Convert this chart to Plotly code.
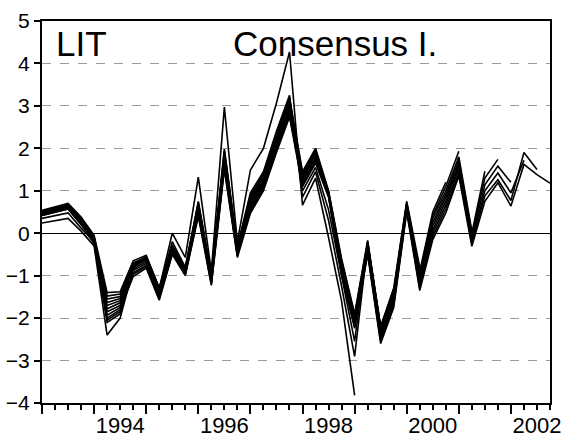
import pandas as pd
import plotly.graph_objects as go

# Quarterly sample 1993Q1-2002Q4
periods = pd.period_range("1993Q1", "2002Q4", freq="Q")
x = [p.year + (p.quarter - 1) / 4 for p in periods]

# Recursive estimates of the consensus indicator, one list per vintage
# (each vintage ends at a later quarter)
vintage_1999q1 = [0.24, 0.30, 0.35, 0.05, -0.30, -2.40, -2.00, -0.85, -0.55, -1.30,
                  0.00, -0.57, 1.32, -0.90, 2.97, -0.20, 1.49, 2.00, 3.07, 4.27,
                  0.66, 1.30, -0.10, -1.60, -3.82]
vintage_1999q4 = [0.35, 0.42, 0.48, 0.12, -0.20, -2.10, -1.90, -0.80, -0.55, -1.30,
                  -0.20, -0.80, 0.75, -0.95, 1.98, -0.30, 0.95, 1.45, 2.40, 3.25,
                  0.85, 1.45, 0.30, -1.25, -2.90, -0.25, -2.20, -1.30]
vintage_2000q2 = [0.42, 0.50, 0.57, 0.20, -0.15, -2.05, -1.85, -0.75, -0.55, -1.30,
                  -0.28, -0.85, 0.72, -1.00, 1.95, -0.35, 0.90, 1.40, 2.36, 3.20,
                  1.00, 1.55, 0.55, -1.00, -2.55, -0.20, -2.25, -1.30, 0.75, -0.80]
vintage_2000q4 = [0.54, 0.62, 0.70, 0.38, -0.05, -1.40, -1.38, -0.65, -0.52, -1.30,
                  -0.30, -0.82, 0.70, -1.00, 1.90, -0.35, 0.85, 1.35, 2.30, 3.20,
                  1.45, 2.00, 1.00, -0.60, -1.90, -0.17, -2.20, -1.35, 0.72, -0.90,
                  0.50, 1.20]
vintage_2001q1 = [0.53, 0.61, 0.68, 0.36, -0.08, -1.48, -1.43, -0.70, -0.56, -1.34,
                  -0.33, -0.84, 0.66, -1.03, 1.85, -0.38, 0.80, 1.31, 2.25, 3.14,
                  1.41, 1.96, 0.98, -0.65, -1.94, -0.21, -2.25, -1.40, 0.70, -0.95,
                  0.42, 1.10, 1.93]
vintage_2001q2 = [0.51, 0.59, 0.67, 0.34, -0.10, -1.55, -1.49, -0.74, -0.60, -1.37,
                  -0.35, -0.87, 0.63, -1.06, 1.80, -0.41, 0.76, 1.26, 2.20, 3.09,
                  1.36, 1.92, 0.96, -0.70, -1.99, -0.25, -2.30, -1.45, 0.68, -1.00,
                  0.35, 1.00, 1.80, 0.05]
vintage_2001q3 = [0.50, 0.58, 0.65, 0.32, -0.13, -1.63, -1.54, -0.79, -0.63, -1.41,
                  -0.38, -0.89, 0.59, -1.09, 1.75, -0.43, 0.71, 1.22, 2.15, 3.03,
                  1.32, 1.87, 0.94, -0.75, -2.03, -0.29, -2.35, -1.50, 0.65, -1.06,
                  0.25, 0.92, 1.72, 0.00, 1.46]
vintage_2001q4 = [0.48, 0.56, 0.64, 0.30, -0.15, -1.70, -1.59, -0.84, -0.67, -1.44,
                  -0.40, -0.91, 0.55, -1.12, 1.70, -0.46, 0.66, 1.18, 2.10, 2.97,
                  1.28, 1.83, 0.93, -0.80, -2.07, -0.34, -2.40, -1.55, 0.62, -1.12,
                  0.17, 0.84, 1.65, -0.05, 1.30, 1.74]
vintage_2002q1 = [0.47, 0.55, 0.62, 0.28, -0.18, -1.78, -1.64, -0.88, -0.71, -1.48,
                  -0.43, -0.93, 0.51, -1.14, 1.65, -0.49, 0.61, 1.13, 2.05, 2.91,
                  1.23, 1.78, 0.91, -0.85, -2.11, -0.38, -2.45, -1.60, 0.60, -1.18,
                  0.08, 0.75, 1.58, -0.12, 1.14, 1.58, 1.20]
vintage_2002q2 = [0.45, 0.53, 0.60, 0.26, -0.20, -1.85, -1.70, -0.93, -0.75, -1.51,
                  -0.45, -0.96, 0.48, -1.17, 1.60, -0.52, 0.57, 1.09, 2.00, 2.86,
                  1.19, 1.74, 0.89, -0.90, -2.16, -0.42, -2.50, -1.65, 0.57, -1.24,
                  0.00, 0.66, 1.50, -0.18, 1.00, 1.42, 0.95, 1.72]
vintage_2002q3 = [0.44, 0.52, 0.59, 0.24, -0.23, -1.93, -1.75, -0.97, -0.78, -1.55,
                  -0.48, -0.98, 0.44, -1.20, 1.55, -0.54, 0.52, 1.04, 1.95, 2.80,
                  1.14, 1.69, 0.87, -0.95, -2.20, -0.46, -2.55, -1.70, 0.54, -1.30,
                  -0.08, 0.57, 1.42, -0.25, 0.88, 1.26, 0.77, 1.90, 1.50]
vintage_2002q4 = [0.42, 0.50, 0.57, 0.22, -0.25, -2.00, -1.80, -1.02, -0.82, -1.58,
                  -0.50, -1.00, 0.40, -1.23, 1.50, -0.57, 0.47, 1.00, 1.90, 2.74,
                  1.10, 1.65, 0.85, -1.00, -2.24, -0.50, -2.60, -1.75, 0.50, -1.35,
                  -0.15, 0.48, 1.35, -0.31, 0.75, 1.19, 0.64, 1.62, 1.38, 1.18]

vintages = [vintage_1999q1, vintage_1999q4, vintage_2000q2, vintage_2000q4,
            vintage_2001q1, vintage_2001q2, vintage_2001q3, vintage_2001q4,
            vintage_2002q1, vintage_2002q2, vintage_2002q3, vintage_2002q4]

label_years = [1994, 1996, 1998, 2000, 2002]
y_ticks = list(range(-4, 6))

FONT = "Liberation Sans, Arial, sans-serif"

fig = go.Figure()
for values in vintages:
    fig.add_trace(go.Scatter(
        x=x[:len(values)], y=values, mode="lines",
        line=dict(color="black", width=1.6),
        showlegend=False, hoverinfo="skip", xaxis="x", yaxis="y",
    ))

# invisible trace so the year-label axis is drawn
fig.add_trace(go.Scatter(x=[x[0]], y=[0], mode="markers", marker=dict(opacity=0),
                         showlegend=False, hoverinfo="skip", xaxis="x2", yaxis="y"))

fig.update_layout(
    width=568, height=439,
    margin=dict(l=42, r=18, t=21, b=36),
    paper_bgcolor="white", plot_bgcolor="white",
    font=dict(family=FONT, color="black"),
    xaxis=dict(
        range=[x[0], x[-1]], tickmode="linear", tick0=1993, dtick=1,
        ticks="outside", ticklen=9, tickwidth=1.5, tickcolor="black",
        showticklabels=False, showgrid=False, zeroline=False, automargin=False,
        showline=True, linecolor="black", linewidth=2, mirror=True,
        minor=dict(tick0=1993, dtick=0.25, ticks="outside", ticklen=5,
                   tickwidth=1.5, tickcolor="black", showgrid=False),
    ),
    xaxis2=dict(
        overlaying="x", anchor="y", side="bottom", range=[x[0], x[-1]],
        tickmode="array", tickvals=[yr + 0.5 for yr in label_years],
        ticktext=[str(yr) for yr in label_years], automargin=False,
        ticks="outside", ticklen=3, tickcolor="rgba(0,0,0,0)",
        showgrid=False, zeroline=False, showline=False,
        tickfont=dict(size=22, family=FONT, color="black"),
    ),
    yaxis=dict(
        range=[-4, 5], tickmode="array", tickvals=y_ticks, automargin=False,
        ticks="outside", ticklen=6, tickwidth=1.5, tickcolor="black",
        tickfont=dict(size=21, family=FONT, color="black"),
        showgrid=True, gridcolor="#9a9a9a", gridwidth=1, griddash="dash",
        zeroline=True, zerolinecolor="black", zerolinewidth=1.3,
        showline=True, linecolor="black", linewidth=2, mirror=True,
    ),
    annotations=[
        dict(text="LIT", xref="paper", yref="paper", x=0.0236, y=0.941,
             xanchor="left", yanchor="middle", showarrow=False,
             font=dict(size=35, family=FONT, color="black")),
        dict(text="Consensus I.", xref="paper", yref="paper", x=0.372, y=0.941,
             xanchor="left", yanchor="middle", showarrow=False,
             font=dict(size=35, family=FONT, color="black")),
    ],
)

fig.write_html("out.html")
